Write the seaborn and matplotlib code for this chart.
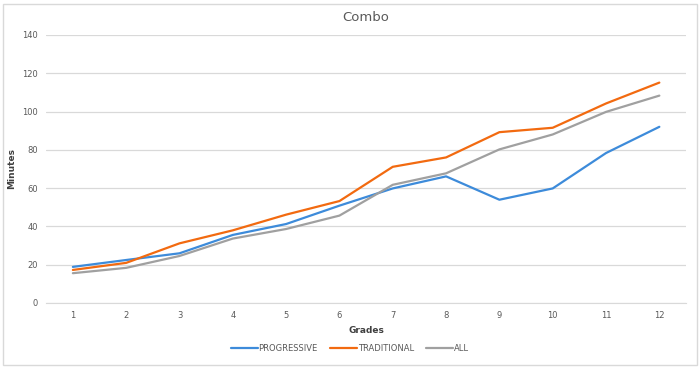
import pandas as pd
import matplotlib.pyplot as plt
import matplotlib.patches as patches
import seaborn as sns

# values
grades = [1, 2, 3, 4, 5, 6, 7, 8, 9, 10, 11, 12]
progressive = [18.8, 22.4, 25.9, 35.5, 41.2, 50.8, 59.8, 66.1, 53.9, 59.8, 78.3, 92.0]
traditional = [17.2, 20.9, 31.1, 37.9, 46.1, 53.2, 71.1, 76.0, 89.2, 91.5, 104.2, 115.1]
all_students = [15.5, 18.3, 24.5, 33.6, 38.6, 45.6, 61.7, 67.7, 80.2, 88.0, 99.8, 108.3]
series_names = ["PROGRESSIVE", "TRADITIONAL", "ALL"]
colors = ["#3D8BDA", "#F26A10", "#A0A0A0"]

df = pd.DataFrame({"Grades": grades * 3,
                   "Minutes": progressive + traditional + all_students,
                   "series": [s for s in series_names for _ in grades]})

sns.set_style("white")
plt.rcParams['font.family'] = ['DejaVu Sans']

fig = plt.figure(figsize=(7, 3.68), dpi=100)
ax = fig.add_axes([0.066, 0.177, 0.914, 0.728])

sns.lineplot(data=df, x="Grades", y="Minutes", hue="series",
             palette=colors, linewidth=1.6, ax=ax, legend=False)

ax.set_xlim(0.5, 12.5)
ax.set_ylim(0, 140)
ax.set_xticks(grades)
ax.set_yticks(range(0, 141, 20))
ax.grid(axis="y", color="#d9d9d9", linewidth=0.9)
ax.set_axisbelow(True)
for side in ["top", "right", "left"]:
    ax.spines[side].set_visible(False)
ax.spines["bottom"].set_color("#d9d9d9")
ax.tick_params(axis="both", length=0, labelsize=6, colors="#595959")
ax.tick_params(axis="x", pad=6)
ax.tick_params(axis="y", pad=6)

ax.set_xlabel("Grades", fontsize=6.5, color="#404040", fontweight="bold", labelpad=4)
ax.set_ylabel("Minutes", fontsize=6.5, color="#404040", fontweight="bold", labelpad=4)
ax.set_title("Combo", fontsize=9.5, color="#595959", pad=10)

handles = [plt.Line2D([], [], color=c, linewidth=1.6) for c in colors]
fig.legend(handles, series_names, loc="center", bbox_to_anchor=(0.5, 0.052),
           ncol=3, frameon=False, fontsize=6, handlelength=3.2,
           handletextpad=0.1, columnspacing=1.5, labelcolor="#595959")

fig.patches.append(patches.Rectangle((0.004, 0.008), 0.992, 0.98, transform=fig.transFigure,
                                     fill=False, edgecolor="#d9d9d9", linewidth=1))

fig.savefig("out.png", dpi=100, facecolor="white")
